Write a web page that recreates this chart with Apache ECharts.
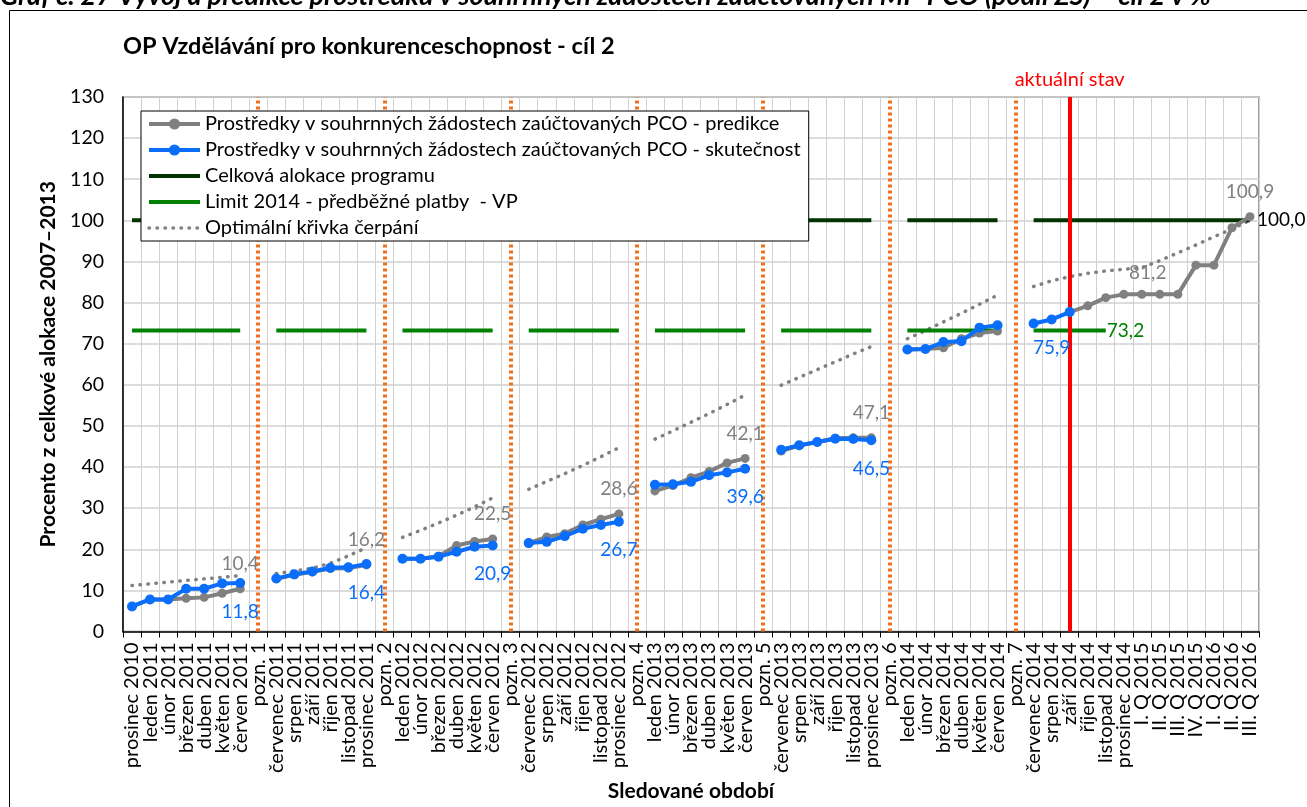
<!DOCTYPE html>
<html>
<head>
<meta charset="utf-8">
<title>OP Vzdělávání pro konkurenceschopnost - cíl 2</title>
<script src="https://cdn.jsdelivr.net/npm/echarts@6/dist/echarts.min.js"></script>
<style>
  html, body { margin: 0; padding: 0; background: #fff; }
  #chart { width: 1307px; height: 807px; }
</style>
</head>
<body>
<div id="chart"></div>
<script>
// kategorie osy x, "pozn." odděluje jednotlivá období
var categories = [
  'prosinec 2010', 'leden 2011', 'únor 2011', 'březen 2011', 'duben 2011', 'květen 2011', 'červen 2011', 'pozn. 1',
  'červenec 2011', 'srpen 2011', 'září 2011', 'říjen 2011', 'listopad 2011', 'prosinec 2011', 'pozn. 2',
  'leden 2012', 'únor 2012', 'březen 2012', 'duben 2012', 'květen 2012', 'červen 2012', 'pozn. 3',
  'červenec 2012', 'srpen 2012', 'září 2012', 'říjen 2012', 'listopad 2012', 'prosinec 2012', 'pozn. 4',
  'leden 2013', 'únor 2013', 'březen 2013', 'duben 2013', 'květen 2013', 'červen 2013', 'pozn. 5',
  'červenec 2013', 'srpen 2013', 'září 2013', 'říjen 2013', 'listopad 2013', 'prosinec 2013', 'pozn. 6',
  'leden 2014', 'únor 2014', 'březen 2014', 'duben 2014', 'květen 2014', 'červen 2014', 'pozn. 7',
  'červenec 2014', 'srpen 2014', 'září 2014', 'říjen 2014', 'listopad 2014', 'prosinec 2014',
  'I. Q 2015', 'II. Q 2015', 'III. Q 2015', 'IV. Q 2015', 'I. Q 2016', 'II. Q 2016', 'III. Q 2016'
];

// % z celkové alokace 2007-2013, null = mezera mezi obdobími
var predikce = [
  6.1, 7.8, 7.8, 8.1, 8.3, 9.3, 10.4, null,
  12.8, 13.8, 14.5, 15.3, 15.4, 16.2, null,
  17.7, 17.7, 18.3, 20.9, 21.9, 22.5, null,
  21.5, 23.0, 23.8, 25.9, 27.3, 28.6, null,
  34.2, 35.5, 37.4, 38.9, 41.0, 42.1, null,
  43.9, 45.2, 46.1, 47.0, 47.1, 47.1, null,
  68.6, 68.7, 69.0, 71.2, 72.6, 73.1, null,
  null, null, 77.7, 79.2, 81.2, 82.0, 82.0, 82.0, 82.0, 89.1, 89.1, 98.2, 100.9
];
var skutecnost = [
  6.1, 7.8, 7.8, 10.4, 10.4, 11.7, 11.8, null,
  12.9, 13.9, 14.6, 15.5, 15.6, 16.4, null,
  17.7, 17.7, 18.2, 19.4, 20.6, 20.9, null,
  21.5, 21.8, 23.2, 25.0, 25.9, 26.7, null,
  35.7, 35.8, 36.4, 38.0, 38.7, 39.6, null,
  44.2, 45.3, 46.1, 46.9, 46.8, 46.5, null,
  68.6, 68.7, 70.4, 70.6, 73.9, 74.5, null,
  74.9, 75.9, 77.7, null, null, null, null, null, null, null, null, null, null
];
var alokace = [
  100, 100, 100, 100, 100, 100, 100, null,
  100, 100, 100, 100, 100, 100, null,
  100, 100, 100, 100, 100, 100, null,
  100, 100, 100, 100, 100, 100, null,
  100, 100, 100, 100, 100, 100, null,
  100, 100, 100, 100, 100, 100, null,
  100, 100, 100, 100, 100, 100, null,
  100, 100, 100, 100, 100, 100, 100, 100, 100, 100, 100, 100, 100
];
var limit2014 = [
  73.2, 73.2, 73.2, 73.2, 73.2, 73.2, 73.2, null,
  73.2, 73.2, 73.2, 73.2, 73.2, 73.2, null,
  73.2, 73.2, 73.2, 73.2, 73.2, 73.2, null,
  73.2, 73.2, 73.2, 73.2, 73.2, 73.2, null,
  73.2, 73.2, 73.2, 73.2, 73.2, 73.2, null,
  73.2, 73.2, 73.2, 73.2, 73.2, 73.2, null,
  73.2, 73.2, 73.2, 73.2, 73.2, 73.2, null,
  73.2, 73.2, 73.2, 73.2, 73.2, null, null, null, null, null, null, null, null
];
var optimalni = [
  11.2, 11.6, 12.0, 12.4, 12.8, 13.2, 13.6, null,
  14.1, 14.7, 15.4, 16.6, 18.4, 20.4, null,
  22.9, 24.6, 26.4, 28.3, 30.3, 32.5, null,
  34.6, 36.5, 38.4, 40.4, 42.5, 44.7, null,
  46.8, 48.8, 50.9, 53.0, 55.2, 57.5, null,
  59.9, 61.8, 63.7, 65.6, 67.5, 69.3, null,
  71.2, 73.2, 75.3, 77.4, 79.6, 81.8, null,
  83.9, 85.3, 86.3, 87.1, 87.7, 88.1, 88.5, 90.2, 92.1, 94.0, 96.0, 97.9, 100.0
];

var yMin = 0, yMax = 130, yStep = 10;
var poznamky = ['pozn. 1', 'pozn. 2', 'pozn. 3', 'pozn. 4', 'pozn. 5', 'pozn. 6', 'pozn. 7'];
var aktualniStav = 'září 2014';

// které body mají popisek (index -> nastavení popisku)
var predikceLabels = {6: {}, 13: {}, 20: {}, 27: {}, 34: {}, 41: {}, 54: {offset: [42, 0]}, 62: {}};
var skutecnostLabels = {6: {}, 13: {}, 20: {}, 27: {}, 34: {}, 41: {}, 51: {}};
var alokaceLabels = {62: {}};
var limitLabels = {54: {}};

var grey = '#808080', blue = '#0A6EFA', darkGreen = '#003300', green = '#008000';
var font = 'Lato';

var names = {
  predikce: 'Prostředky v souhrnných žádostech zaúčtovaných PCO - predikce',
  skutecnost: 'Prostředky v souhrnných žádostech zaúčtovaných PCO - skutečnost',
  alokace: 'Celková alokace programu',
  limit: 'Limit 2014 - předběžné platby  - VP',
  optimal: 'Optimální křivka čerpání'
};

function fmt(p) {
  return p.value.toFixed(1).replace('.', ',');
}

// data pro ECharts, body s popiskem jako objekty
function withLabels(values, labels) {
  return values.map(function (v, i) {
    if (v == null || !labels[i]) return v;
    return {value: v, label: Object.assign({show: true}, labels[i])};
  });
}

var chart = echarts.init(document.getElementById('chart'));

var option = {
  animation: false,
  textStyle: {fontFamily: font},
  title: {
    text: 'OP Vzdělávání pro konkurenceschopnost - cíl 2',
    left: 118,
    top: 29,
    textStyle: {fontSize: 23.5, fontWeight: 'bold', color: '#000', fontFamily: font}
  },
  graphic: [
    {
      type: 'text',
      left: 0,
      top: -17,
      style: {
        text: 'Graf č. 27 Vývoj a predikce prostředků v souhrnných žádostech zaúčtovaných MF-PCO (podíl ZS) – cíl 2 v %',
        font: 'italic bold 27px Lato',
        fill: '#000'
      }
    },
    {
      type: 'rect',
      shape: {x: 9.5, y: 10.5, width: 1320, height: 820},
      style: {fill: null, stroke: '#000', lineWidth: 1},
      silent: true
    }
  ],
  legend: {
    orient: 'vertical',
    left: 141,
    top: 111,
    itemWidth: 51,
    itemHeight: 14,
    itemGap: 6,
    padding: [3, 8, 3, 6],
    backgroundColor: '#fff',
    borderColor: '#000',
    borderWidth: 1,
    borderRadius: 0,
    lineStyle: {width: 'inherit'},
    textStyle: {fontSize: 20, color: '#000', fontFamily: font},
    data: [
      names.predikce,
      names.skutecnost,
      {name: names.alokace, itemStyle: {opacity: 0}},
      {name: names.limit, itemStyle: {opacity: 0}},
      {name: names.optimal, itemStyle: {opacity: 0}}
    ]
  },
  grid: {
    left: 123,
    right: 48,
    top: 97,
    bottom: 175,
    show: true,
    borderColor: '#7f7f7f',
    borderWidth: 1.5
  },
  xAxis: {
    type: 'category',
    data: categories,
    boundaryGap: true,
    name: 'Sledované období',
    nameLocation: 'middle',
    nameGap: 147,
    nameTextStyle: {fontSize: 21, fontWeight: 'bold', color: '#000', fontFamily: font},
    axisLine: {lineStyle: {color: '#000', width: 1.5}},
    axisTick: {show: true, interval: 0, length: 6, lineStyle: {color: '#000'}},
    axisLabel: {interval: 0, rotate: 90, fontSize: 20, color: '#000', margin: 11},
    splitLine: {show: true, interval: 0, lineStyle: {color: '#d0d0d0', width: 1}}
  },
  yAxis: {
    type: 'value',
    min: yMin,
    max: yMax,
    interval: yStep,
    name: 'Procento z celkové alokace 2007–2013',
    nameLocation: 'middle',
    nameGap: 64,
    nameTextStyle: {fontSize: 21, fontWeight: 'bold', color: '#000', fontFamily: font},
    axisLine: {show: true, lineStyle: {color: '#000', width: 1.5}},
    axisTick: {show: false},
    axisLabel: {fontSize: 19.5, color: '#000', margin: 19},
    splitLine: {lineStyle: {color: '#d0d0d0', width: 1.5}}
  },
  series: [
    {
      name: names.optimal,
      type: 'line',
      data: optimalni,
      symbol: 'none',
      z: 3,
      lineStyle: {color: grey, width: 3.5, type: [0.5, 7.5], cap: 'round'},
      itemStyle: {color: grey},
      // oddělovače období
      markLine: {
        silent: true,
        symbol: ['none', 'none'],
        z: 1,
        label: {show: false},
        lineStyle: {color: '#F07020', width: 4, type: [3, 3]},
        data: poznamky.map(function (p) { return {xAxis: p}; })
      }
    },
    {
      name: names.limit,
      type: 'line',
      data: withLabels(limit2014, limitLabels),
      symbol: 'circle',
      symbolSize: 0.1,
      showAllSymbol: true,
      z: 3,
      lineStyle: {color: green, width: 4},
      itemStyle: {color: green},
      label: {show: false, position: 'right', distance: 1, fontSize: 19, color: green, formatter: fmt},
      markLine: {
        silent: true,
        symbol: ['none', 'none'],
        z: 4,
        lineStyle: {color: '#FF0000', width: 4, type: 'solid'},
        label: {show: true, position: 'end', formatter: 'aktuální stav', color: '#FF0000', fontSize: 20, distance: 7},
        data: [{xAxis: aktualniStav}]
      }
    },
    {
      name: names.alokace,
      type: 'line',
      data: withLabels(alokace, alokaceLabels),
      symbol: 'circle',
      symbolSize: 0.1,
      showAllSymbol: true,
      z: 3,
      lineStyle: {color: darkGreen, width: 4},
      itemStyle: {color: darkGreen},
      label: {show: false, position: 'right', distance: 7, fontSize: 19, color: '#000', formatter: fmt}
    },
    {
      name: names.predikce,
      type: 'line',
      data: withLabels(predikce, predikceLabels),
      symbol: 'circle',
      symbolSize: 9,
      showAllSymbol: true,
      z: 5,
      lineStyle: {color: grey, width: 4},
      itemStyle: {color: grey},
      label: {show: false, position: 'top', distance: 11, fontSize: 19, color: grey, formatter: fmt}
    },
    {
      name: names.skutecnost,
      type: 'line',
      data: withLabels(skutecnost, skutecnostLabels),
      symbol: 'circle',
      symbolSize: 10,
      showAllSymbol: true,
      z: 6,
      lineStyle: {color: blue, width: 4},
      itemStyle: {color: blue},
      label: {show: false, position: 'bottom', distance: 14, fontSize: 19, color: blue, formatter: fmt}
    }
  ]
};

chart.setOption(option);
</script>
</body>
</html>
